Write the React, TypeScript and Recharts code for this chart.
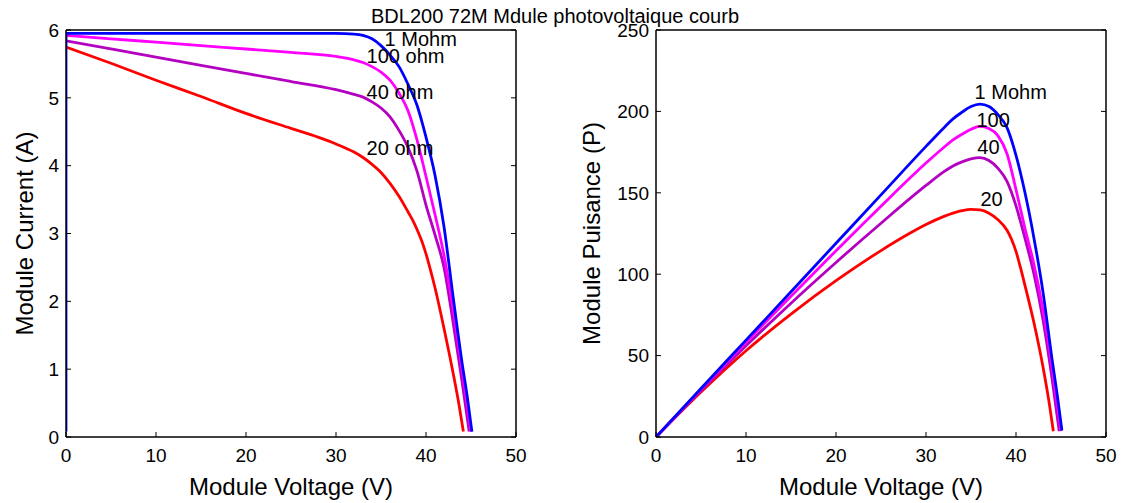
import React from 'react';
import { LineChart, Line, XAxis, YAxis, ReferenceDot, Label } from 'recharts';

const FONT = '"Liberation Sans", Arial, Helvetica, sans-serif';

// ---------- Tick values ----------
const voltageTicks = [0, 10, 20, 30, 40, 50];
const currentTicks = [0, 1, 2, 3, 4, 5, 6];
const powerTicks = [0, 50, 100, 150, 200, 250];

// ---------- I-V curves (Module Voltage V -> Module Current A) ----------
const ivVolt1M = [0, 0, 5, 10, 15, 20, 25, 30, 32, 33, 34, 35, 36, 37, 38, 39, 40, 41, 42, 43, 44, 44.6, 45.1];
const ivCurr1M = [0.08, 5.95, 5.95, 5.95, 5.95, 5.95, 5.95, 5.95, 5.94, 5.92, 5.87, 5.77, 5.63, 5.46, 5.2, 4.89, 4.42, 3.86, 3.1, 2.08, 1.1, 0.58, 0.08];

const ivVolt100 = [0, 5, 10, 15, 20, 25, 30, 32, 33, 34, 35, 36, 37, 38, 39, 40, 41, 42, 43, 44, 44.5, 45.0];
const ivCurr100 = [5.92, 5.87, 5.82, 5.77, 5.72, 5.67, 5.61, 5.56, 5.52, 5.46, 5.38, 5.26, 5.07, 4.81, 4.38, 3.84, 3.28, 2.68, 1.9, 1.0, 0.55, 0.08];

const ivVolt40 = [0, 5, 10, 15, 20, 25, 30, 32, 33, 34, 35, 36, 37, 38, 39, 40, 41, 42, 43, 44, 44.8];
const ivCurr40 = [5.84, 5.72, 5.6, 5.48, 5.36, 5.24, 5.12, 5.05, 5.01, 4.94, 4.85, 4.72, 4.52, 4.27, 3.92, 3.42, 2.98, 2.5, 1.7, 0.82, 0.08];

const ivVolt20 = [0, 5, 10, 15, 20, 25, 28, 30, 32, 33, 34, 35, 36, 37, 38, 38.5, 39, 39.5, 40, 40.5, 41, 42, 43, 43.7, 44.15];
const ivCurr20 = [5.75, 5.51, 5.26, 5.02, 4.77, 4.55, 4.42, 4.32, 4.2, 4.12, 4.02, 3.9, 3.74, 3.55, 3.32, 3.2, 3.06, 2.9, 2.7, 2.46, 2.2, 1.6, 0.95, 0.45, 0.08];

// ---------- P-V curves (Module Voltage V -> Module Power W) ----------
const pvVolt1M = [0, 5, 10, 15, 20, 25, 30, 32, 33, 34, 35, 36, 37, 38, 39, 40, 41, 42, 43, 44, 44.6, 45.1];
const pvPow1M = [0, 29.8, 59.5, 89.2, 119, 148.7, 178.5, 190, 195.4, 199.5, 203, 204.5, 203, 198, 190, 173, 150, 122, 89, 48, 25, 4];

const pvVolt100 = [0, 5, 10, 15, 20, 25, 30, 32, 33, 34, 35, 36, 37, 38, 39, 40, 41, 42, 43, 44, 44.5, 45.0];
const pvPow100 = [0, 29.4, 58.2, 86.5, 114.4, 141.8, 168.3, 178, 182.5, 186, 189, 190.8, 189.5, 185, 174, 152, 128, 106, 78, 43, 23, 3.6];

const pvVolt40 = [0, 5, 10, 15, 20, 25, 30, 32, 33, 34, 35, 36, 37, 38, 39, 40, 41, 42, 43, 44, 44.8];
const pvPow40 = [0, 28.6, 56, 82.2, 107.2, 131.3, 154.5, 163, 166.5, 169, 170.8, 171.6, 169.8, 165, 157, 142, 122, 100, 72, 36, 3.6];

const pvVolt20 = [0, 5, 10, 15, 20, 25, 28, 30, 32, 33, 34, 35, 36, 37, 38, 39, 39.5, 40, 40.5, 41, 42, 43, 43.7, 44.15];
const pvPow20 = [0, 27.6, 53, 75.5, 96, 114.5, 124.5, 130.5, 135.5, 137.5, 139, 139.8, 139.5, 137.5, 133.5, 127, 121.5, 114, 104, 93, 70, 43, 20.5, 3.5];

// ---------- Curve annotations ----------
const ivLabelText = ['1 Mohm', '100 ohm', '40 ohm', '20 ohm'];
const ivLabelVolt = [35.4, 33.4, 33.4, 33.4];
const ivLabelCurr = [5.86, 5.62, 5.08, 4.26];

const pvLabelText = ['1 Mohm', '100', '40', '20'];
const pvLabelVolt = [35.4, 35.6, 35.7, 36.05];
const pvLabelPow = [211.8, 194.5, 178, 146];

const COLORS = { r1M: '#0000ff', r100: '#ff00ff', r40: '#b400c0', r20: '#ff0000' };

const rows = (xs: number[], ys: number[]) => xs.map((x, k) => ({ v: x, y: ys[k] }));

// drawn in this order: red, purple, magenta, blue (blue on top)
const ivSeries = [
  { key: 'iv20', color: COLORS.r20, data: rows(ivVolt20, ivCurr20) },
  { key: 'iv40', color: COLORS.r40, data: rows(ivVolt40, ivCurr40) },
  { key: 'iv100', color: COLORS.r100, data: rows(ivVolt100, ivCurr100) },
  { key: 'iv1M', color: COLORS.r1M, data: rows(ivVolt1M, ivCurr1M) },
];
const pvSeries = [
  { key: 'pv20', color: COLORS.r20, data: rows(pvVolt20, pvPow20) },
  { key: 'pv40', color: COLORS.r40, data: rows(pvVolt40, pvPow40) },
  { key: 'pv100', color: COLORS.r100, data: rows(pvVolt100, pvPow100) },
  { key: 'pv1M', color: COLORS.r1M, data: rows(pvVolt1M, pvPow1M) },
];

const tickStyle = { fill: '#000', fontSize: 19, fontFamily: FONT };
const axisLineStyle = { stroke: '#000', strokeWidth: 1.5 };
const tickLineStyle = { stroke: '#000', strokeWidth: 1 };
const blank = () => '';

const xLabel = (text: string) => (props: any) => {
  const vb = props.viewBox || { x: 0, y: 0, width: 0, height: 0 };
  return (
    <text x={vb.x + vb.width / 2} y={vb.y + 58} textAnchor="middle" fontSize={24} fontFamily={FONT} fill="#000">
      {text}
    </text>
  );
};

const yLabel = (text: string, cx: number) => (props: any) => {
  const vb = props.viewBox || { x: 0, y: 0, width: 0, height: 0 };
  const x = vb.x + cx;
  const y = vb.y + vb.height / 2;
  return (
    <text
      x={x}
      y={y}
      dy="0.35em"
      transform={`rotate(-90, ${x}, ${y})`}
      textAnchor="middle"
      fontSize={24}
      fontFamily={FONT}
      fill="#000"
    >
      {text}
    </text>
  );
};

const textShape = (text: string) => (p: any) => (
  <text x={p.cx} y={p.cy} dy="0.35em" textAnchor="start" fontSize={20} fontFamily={FONT} fill="#000">
    {text}
  </text>
);

interface PanelProps {
  series: { key: string; color: string; data: { v: number; y: number }[] }[];
  yDomain: [number, number];
  yTicks: number[];
  leftWidth: number;
  rightWidth: number;
  yTitle: string;
  yTitleX: number;
  labelText: string[];
  labelX: number[];
  labelY: number[];
}

function Panel(p: PanelProps) {
  return (
    <LineChart width={566} height={503} margin={{ top: 0, right: 0, bottom: 6, left: 0 }}>
      <XAxis
        xAxisId="b"
        dataKey="v"
        type="number"
        domain={[0, 50]}
        allowDataOverflow
        ticks={voltageTicks}
        orientation="bottom"
        height={60}
        tickSize={-5}
        tickMargin={17}
        tick={tickStyle}
        axisLine={axisLineStyle}
        tickLine={tickLineStyle}
        interval={0}
      >
        <Label content={xLabel('Module Voltage (V)')} />
      </XAxis>
      <XAxis
        xAxisId="t"
        type="number"
        domain={[0, 50]}
        allowDataOverflow
        ticks={voltageTicks}
        orientation="top"
        height={30}
        tickSize={-5}
        tickFormatter={blank}
        axisLine={axisLineStyle}
        tickLine={tickLineStyle}
        interval={0}
      />
      <YAxis
        yAxisId="l"
        type="number"
        domain={p.yDomain}
        allowDataOverflow
        ticks={p.yTicks}
        width={p.leftWidth}
        tickSize={-5}
        tickMargin={12}
        tick={tickStyle}
        axisLine={axisLineStyle}
        tickLine={tickLineStyle}
        interval={0}
      >
        <Label content={yLabel(p.yTitle, p.yTitleX)} />
      </YAxis>
      <YAxis
        yAxisId="r"
        orientation="right"
        type="number"
        domain={p.yDomain}
        allowDataOverflow
        ticks={p.yTicks}
        width={p.rightWidth}
        tickSize={-5}
        tickFormatter={blank}
        axisLine={axisLineStyle}
        tickLine={tickLineStyle}
        interval={0}
      />
      {p.series.map((s) => (
        <Line
          key={s.key}
          xAxisId="b"
          yAxisId="l"
          data={s.data}
          dataKey="y"
          type="monotone"
          stroke={s.color}
          strokeWidth={2.8}
          dot={false}
          activeDot={false}
          isAnimationActive={false}
        />
      ))}
      {p.labelText.map((t, k) => (
        <ReferenceDot
          key={t}
          xAxisId="b"
          yAxisId="l"
          x={p.labelX[k]}
          y={p.labelY[k]}
          r={0}
          shape={textShape(t)}
        />
      ))}
    </LineChart>
  );
}

export default function App() {
  return (
    <div style={{ position: 'absolute', left: 0, top: 0, width: 1132, height: 503, background: '#fff', overflow: 'hidden' }}>
      <div style={{ position: 'absolute', left: 0, top: 0 }}>
        <Panel
          series={ivSeries}
          yDomain={[0, 6]}
          yTicks={currentTicks}
          leftWidth={66}
          rightWidth={50}
          yTitle="Module Current (A)"
          yTitleX={25}
          labelText={ivLabelText}
          labelX={ivLabelVolt}
          labelY={ivLabelCurr}
        />
      </div>
      <div style={{ position: 'absolute', left: 566, top: 0 }}>
        <Panel
          series={pvSeries}
          yDomain={[0, 250]}
          yTicks={powerTicks}
          leftWidth={90}
          rightWidth={26}
          yTitle="Module Puisance (P)"
          yTitleX={26}
          labelText={pvLabelText}
          labelX={pvLabelVolt}
          labelY={pvLabelPow}
        />
      </div>
      <svg width={1132} height={40} style={{ position: 'absolute', left: 0, top: 0, pointerEvents: 'none' }}>
        <text x={555} y={22.7} textAnchor="middle" fontSize={20} fontFamily={FONT} fill="#000">
          BDL200 72M Mdule photovoltaique courb
        </text>
      </svg>
    </div>
  );
}
